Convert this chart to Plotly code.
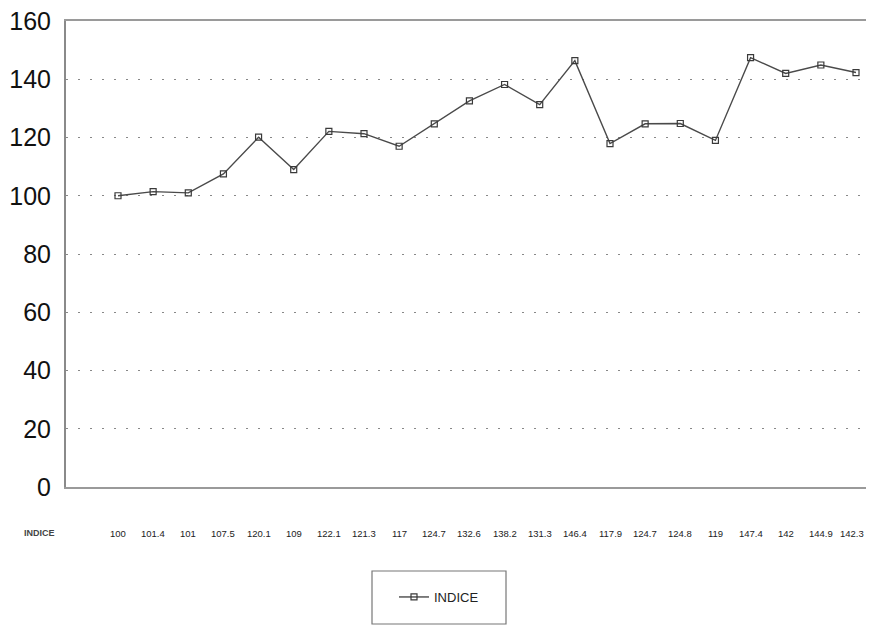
import plotly.graph_objects as go

series_name = "INDICE"
indice = [100, 101.4, 101, 107.5, 120.1, 109, 122.1, 121.3, 117, 124.7, 132.6,
          138.2, 131.3, 146.4, 117.9, 124.7, 124.8, 119, 147.4, 142, 144.9, 142.3]
y_ticks = [0, 20, 40, 60, 80, 100, 120, 140, 160]

OFF = 8  # page offset of the figure inside the browser window
W, H = 858, 619
# target plot area in window pixels
PL, PR, PT, PB = 66, OFF + W, 21, 487
L = PL - OFF
T = PT - OFF
R = 0
B = H - (PB - OFF)
pw = W - L - R
ph = H - T - B

x = list(range(len(indice)))

fig = go.Figure()
fig.add_trace(go.Scatter(
    x=x, y=indice, mode="lines+markers", name=series_name,
    line=dict(color="#4a4a4a", width=1.4),
    marker=dict(symbol="square-open", size=6, color="#3a3a3a", line=dict(width=1.2)),
))

def px2x(p):
    return (p - PL) / pw

def px2y(p):
    return (PB - p) / ph

annotations = []
annotations.append(dict(x=px2x(22), y=px2y(533), xref="paper", yref="paper",
                        text="<b>" + series_name + "</b>", showarrow=False,
                        xanchor="left", yanchor="middle",
                        font=dict(family="Liberation Sans Narrow, Liberation Sans, Arial",
                                  size=9, color="#444")))
for i, (xi, v) in enumerate(zip(x, indice)):
    last = i == len(indice) - 1
    annotations.append(dict(x=xi, y=px2y(533), xref="x", yref="paper",
                            text=f"{v:g}", showarrow=False,
                            xanchor="center", yanchor="middle",
                            xshift=-4 if last else 0,
                            font=dict(family="Liberation Sans, Arial", size=9.5, color="#222")))

# x range so that first point sits at 118 px and last at 856 px
step = (856 - 118) / (len(indice) - 1)
x0 = -(118 - PL) / step
x1 = (len(indice) - 1) + (PR - 856) / step

fig.update_layout(
    width=W, height=H,
    margin=dict(l=L, r=R, t=T, b=B),
    paper_bgcolor="white", plot_bgcolor="white",
    showlegend=True,
    legend=dict(x=px2x(439), y=px2y(597), xanchor="center", yanchor="middle",
                font=dict(family="Liberation Sans, Arial", size=13, color="#222"),
                bgcolor="rgba(0,0,0,0)", borderwidth=0, itemwidth=30),
    xaxis=dict(range=[x0, x1], showgrid=False, zeroline=False,
               showticklabels=False, ticks="", showline=True, mirror=True,
               linecolor="#9a9a9a", linewidth=2),
    yaxis=dict(range=[0, 160], tickvals=y_ticks, showgrid=True, gridcolor="#888888",
               griddash="2px,10px", gridwidth=1.2, zeroline=False, showline=True,
               linecolor="#8a8a8a", linewidth=2, ticks="", ticklabelstandoff=8,
               ticklabeloverflow="allow",
               tickfont=dict(family="Liberation Sans, Arial", size=25, color="#111")),
    annotations=annotations,
    shapes=[dict(type="rect", xref="paper", yref="paper",
                 x0=px2x(372), x1=px2x(506), y0=px2y(571), y1=px2y(624),
                 line=dict(color="#777", width=1.2), fillcolor="rgba(0,0,0,0)")],
)

fig.write_html("out.html")
